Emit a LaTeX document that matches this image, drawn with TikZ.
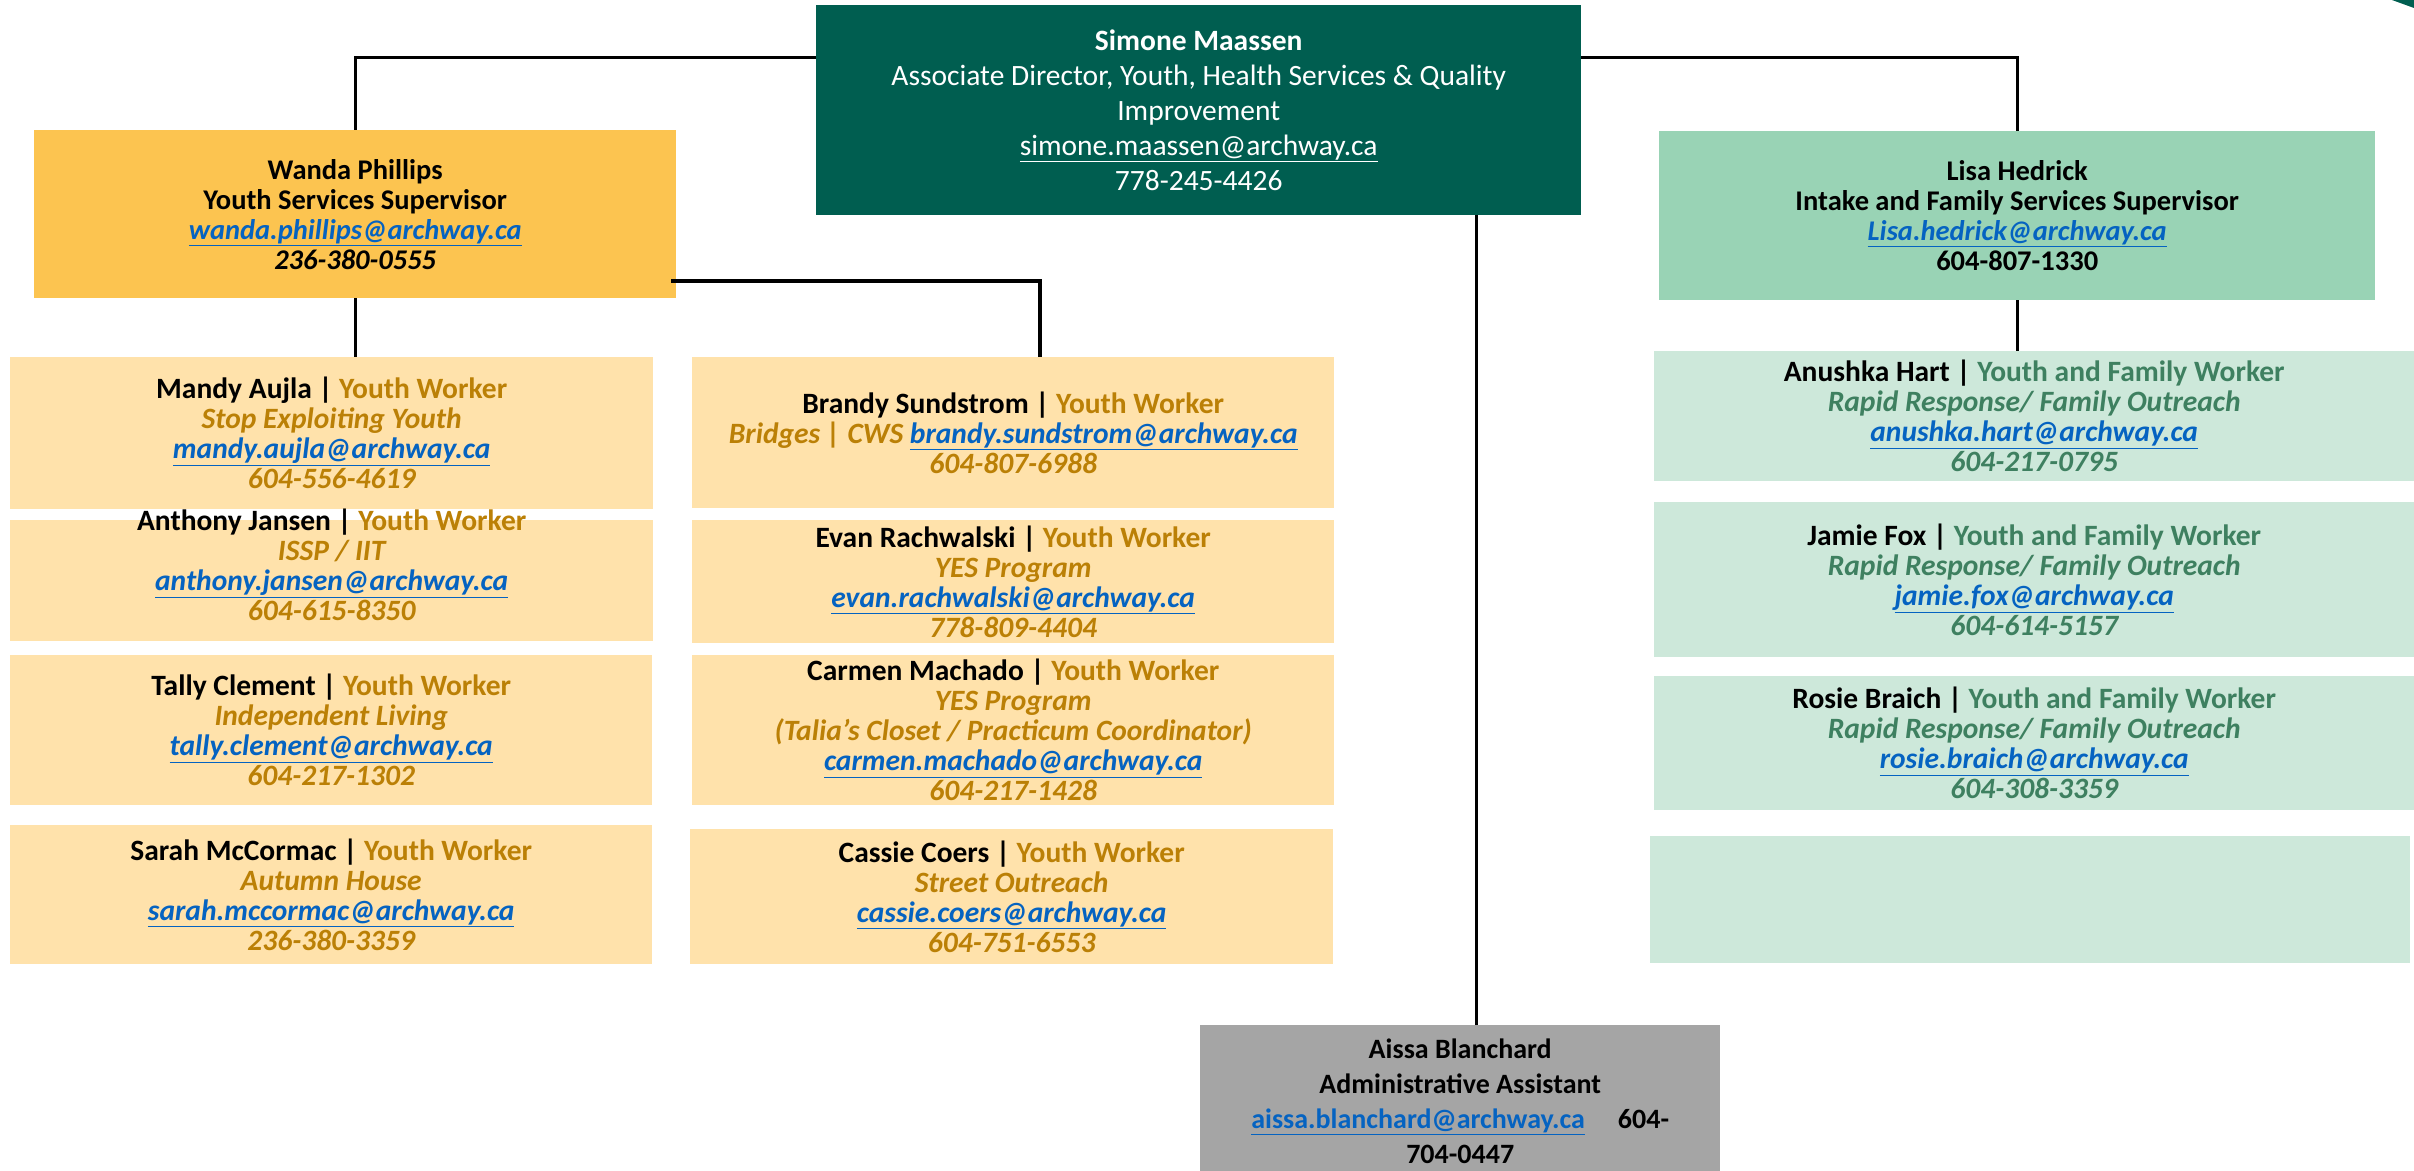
\documentclass[tikz,border=0pt]{standalone}
\usepackage{fontspec}
\setmainfont{Carlito}
\definecolor{dkgreen}{HTML}{005E50}
\definecolor{wandafill}{HTML}{FCC450}
\definecolor{peach}{HTML}{FFE2AB}
\definecolor{gold}{HTML}{BB8006}
\definecolor{lisafill}{HTML}{99D3B5}
\definecolor{mint}{HTML}{CDE8DA}
\definecolor{fgreen}{HTML}{3E8060}
\definecolor{link}{HTML}{0563C1}
\definecolor{admin}{HTML}{A5A5A5}
\newcommand{\lnk}[1]{\textcolor{link}{\underline{#1}}}
\newcommand{\gd}[1]{\textcolor{gold}{#1}}
\newcommand{\gn}[1]{\textcolor{fgreen}{#1}}
\begin{document}
\begin{tikzpicture}[x=1pt,y=-1pt,
  box/.style={rectangle, draw=none, inner sep=0pt, anchor=north west, align=center,
    font=\fontsize{29.5}{30}\selectfont\bfseries},
  sup/.style={box, font=\fontsize{28.5}{30}\selectfont\bfseries},
  yw/.style={box, fill=peach},
  fw/.style={box, fill=mint},
  txt/.style={inner sep=0pt, align=center, font=\fontsize{29.5}{30}\selectfont\bfseries},
  conn/.style={draw=black, line width=3pt}]
\useasboundingbox (0,0) rectangle (2414,1170);
\fill[white] (0,0) rectangle (2414,1170);

% corner fragment
\fill[dkgreen] (2392,0) -- (2414,0) -- (2414,8) -- cycle;

% director
\node[box, fill=dkgreen, text=white, minimum width=765pt, minimum height=210pt,
  font=\fontsize{29.5}{35}\selectfont] (simone) at (816,5)
  {\textbf{Simone Maassen}\\ Associate Director, Youth, Health Services \& Quality\\ Improvement\\ \underline{simone.maassen@archway.ca}\\ 778-245-4426};

% supervisors
\node[sup, fill=wandafill, minimum width=642pt, minimum height=168pt] (wanda) at (34,130)
  {Wanda Phillips\\ Youth Services Supervisor\\ \lnk{\itshape wanda.phillips@archway.ca}\\ {\itshape 236-380-0555}};
\node[sup, fill=lisafill, minimum width=716pt, minimum height=169pt] (lisa) at (1659,131)
  {Lisa Hedrick\\ Intake and Family Services Supervisor\\ \lnk{\itshape Lisa.hedrick@archway.ca}\\ 604-807-1330};

% youth workers, left column
\node[yw, minimum width=643pt, minimum height=152pt] (mandy) at (10,357)
  {Mandy Aujla | \gd{Youth Worker}\\ \gd{\itshape Stop Exploiting Youth}\\ \lnk{\itshape mandy.aujla@archway.ca}\\ \gd{\itshape 604-556-4619}};
\node[yw, minimum width=643pt, minimum height=121pt] (anthony) at (10,520) {};
\node[txt, yshift=16pt] (anthonytext) at (anthony.center)
  {Anthony Jansen | \gd{Youth Worker}\\ \gd{\itshape ISSP / IIT}\\ \lnk{\itshape anthony.jansen@archway.ca}\\ \gd{\itshape 604-615-8350}};
\node[yw, minimum width=642pt, minimum height=150pt] (tally) at (10,655)
  {Tally Clement | \gd{Youth Worker}\\ \gd{\itshape Independent Living}\\ \lnk{\itshape tally.clement@archway.ca}\\ \gd{\itshape 604-217-1302}};
\node[yw, minimum width=642pt, minimum height=139pt] (sarah) at (10,825)
  {Sarah McCormac | \gd{Youth Worker}\\ \gd{\itshape Autumn House}\\ \lnk{\itshape sarah.mccormac@archway.ca}\\ \gd{\itshape 236-380-3359}};

% youth workers, middle column
\node[yw, minimum width=642pt, minimum height=151pt] (brandy) at (692,357)
  {Brandy Sundstrom | \gd{Youth Worker}\\ \gd{\itshape Bridges | CWS} \lnk{\itshape brandy.sundstrom@archway.ca}\\ \gd{\itshape 604-807-6988}};
\node[yw, minimum width=642pt, minimum height=123pt] (evan) at (692,520)
  {Evan Rachwalski | \gd{Youth Worker}\\ \gd{\itshape YES Program}\\ \lnk{\itshape evan.rachwalski@archway.ca}\\ \gd{\itshape 778-809-4404}};
\node[yw, minimum width=642pt, minimum height=150pt] (carmen) at (692,655)
  {Carmen Machado | \gd{Youth Worker}\\ \gd{\itshape YES Program}\\ \gd{\itshape (Talia’s Closet / Practicum Coordinator)}\\ \lnk{\itshape carmen.machado@archway.ca}\\ \gd{\itshape 604-217-1428}};
\node[yw, minimum width=643pt, minimum height=135pt] (cassie) at (690,829)
  {Cassie Coers | \gd{Youth Worker}\\ \gd{\itshape Street Outreach}\\ \lnk{\itshape cassie.coers@archway.ca}\\ \gd{\itshape 604-751-6553}};

% family workers, right column
\node[fw, minimum width=760pt, minimum height=130pt] (anushka) at (1654,351)
  {Anushka Hart | \gn{Youth and Family Worker}\\ \gn{\itshape Rapid Response/ Family Outreach}\\ \lnk{\itshape anushka.hart@archway.ca}\\ \gn{\itshape 604-217-0795}};
\node[fw, minimum width=760pt, minimum height=155pt] (jamie) at (1654,502)
  {Jamie Fox | \gn{Youth and Family Worker}\\ \gn{\itshape Rapid Response/ Family Outreach}\\ \lnk{\itshape jamie.fox@archway.ca}\\ \gn{\itshape 604-614-5157}};
\node[fw, minimum width=760pt, minimum height=134pt] (rosie) at (1654,676)
  {Rosie Braich | \gn{Youth and Family Worker}\\ \gn{\itshape Rapid Response/ Family Outreach}\\ \lnk{\itshape rosie.braich@archway.ca}\\ \gn{\itshape 604-308-3359}};
\node[fw, minimum width=760pt, minimum height=127pt] (vacant) at (1650,836) {};

% admin
\node[box, fill=admin, minimum width=520pt, minimum height=152pt,
  font=\fontsize{28}{35}\selectfont\bfseries] (aissa) at (1200,1025)
  {Aissa Blanchard\\ Administrative Assistant\\ \lnk{aissa.blanchard@archway.ca}\hspace{33pt}604-\\ 704-0447};

% connectors
\draw[conn] ([yshift=53pt]simone.west) -| (wanda.north);
\draw[conn] ([yshift=53pt]simone.east) -| (lisa.north);
\draw[conn] (wanda.south) -- (wanda.south |- mandy.north);
\draw[conn, line width=4pt] ([yshift=-67pt,xshift=-5pt]wanda.east) -| ([xshift=27pt]brandy.north);
\draw[conn] ([xshift=16pt]aissa.north) -- ([xshift=16pt]aissa.north |- simone.south);
\draw[conn] (lisa.south) -- (lisa.south |- anushka.north);
\end{tikzpicture}
\end{document}
